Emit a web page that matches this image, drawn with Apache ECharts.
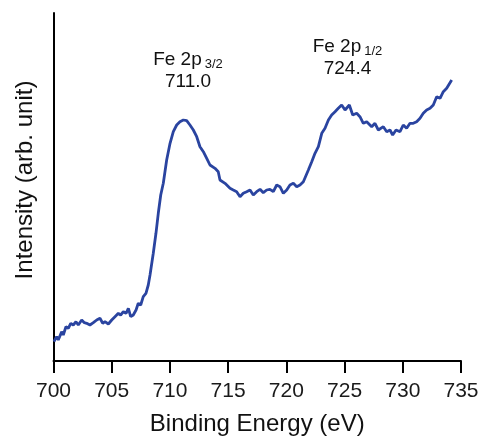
<!DOCTYPE html>
<html>
<head>
    <meta charset="UTF-8">
    <title>Fe 2p XPS</title>
    <script type="text/javascript" src="https://cdn.jsdelivr.net/npm/echarts@6/dist/echarts.min.js"></script>
    <style>
        html, body { margin: 0; padding: 0; background: #fff; }
        #chart { width: 483px; height: 441px; }
    </style>
</head>
<body>
<div id="chart"></div>
<script type="text/javascript">
    // binding energy (eV)
    var energy = [
        700.04, 700.27, 700.41, 700.70, 700.84, 701.07, 701.27, 701.48, 701.70, 701.93,
        702.13, 702.42, 702.65, 702.85, 703.13, 703.42, 703.71, 703.99, 704.23, 704.42,
        704.71, 705.00, 705.28, 705.57, 705.77, 706.00, 706.23, 706.43, 706.63, 706.85,
        707.09, 707.28, 707.49, 707.71, 707.94, 708.14, 708.29, 708.57, 708.80, 709.00,
        709.21, 709.43, 709.72, 710.01, 710.29, 710.58, 710.86, 711.15, 711.44, 711.72,
        712.01, 712.30, 712.58, 712.87, 713.16, 713.44, 713.87, 714.15, 714.30, 714.73,
        715.16, 715.44, 715.73, 716.02, 716.30, 716.59, 716.88, 717.16, 717.45, 717.74,
        718.02, 718.31, 718.59, 718.88, 719.17, 719.45, 719.74, 720.03, 720.31, 720.60,
        720.89, 721.17, 721.46, 721.60, 721.89, 722.18, 722.46, 722.75, 723.04, 723.32,
        723.61, 723.89, 724.18, 724.46, 724.75, 725.04, 725.41, 725.70, 726.04, 726.32,
        726.61, 726.90, 727.33, 727.61, 727.90, 728.04, 728.33, 728.62, 728.90, 729.13,
        729.42, 729.76, 730.04, 730.33, 730.62, 730.90, 731.19, 731.48, 731.76, 732.05,
        732.34, 732.62, 732.91, 733.20, 733.48, 733.77, 734.20
    ];
    // intensity (arb. unit)
    var intensity = [
        19.3, 24.3, 21.0, 29.3, 26.0, 34.3, 32.7, 37.7, 36.0, 39.3,
        36.0, 41.0, 38.3, 37.7, 36.0, 38.3, 41.0, 42.7, 37.7, 39.3,
        37.0, 41.0, 44.3, 47.7, 46.0, 49.3, 47.7, 52.7, 44.3, 46.0,
        51.0, 57.7, 56.0, 64.3, 67.7, 76.0, 86.0, 107.7, 127.7, 147.7,
        166.0, 177.7, 201.0, 217.7, 229.3, 236.0, 239.3, 241.0, 240.3, 236.0,
        231.0, 224.3, 214.3, 209.3, 202.7, 196.0, 192.7, 189.3, 181.0, 177.7,
        172.7, 171.0, 169.3, 164.3, 167.7, 169.3, 171.0, 166.0, 169.3, 171.7,
        168.3, 171.0, 171.7, 169.3, 176.0, 174.3, 167.7, 171.0, 176.0, 177.7,
        174.3, 176.0, 179.3, 181.0, 191.0, 199.3, 207.7, 214.3, 227.7, 232.7,
        241.0, 246.0, 249.3, 252.7, 256.0, 251.0, 256.0, 246.0, 247.7, 244.3,
        237.7, 239.3, 234.3, 237.7, 231.0, 231.0, 234.3, 229.3, 231.0, 226.0,
        231.0, 229.3, 236.0, 232.7, 237.7, 237.7, 239.3, 242.7, 247.7, 251.0,
        252.7, 256.0, 264.3, 262.7, 269.3, 272.7, 281.0
    ];
    var xTicks = [700, 705, 710, 715, 720, 725, 730, 735];
    // peak labels: [position eV, label height, sub, value]
    var peakLabels = [
        [711.55, 290, '3/2', '711.0'],
        [725.25, 303, '1/2', '724.4']
    ];

    var points = [];
    for (var i = 0; i < energy.length; i++) {
        points.push([energy[i], intensity[i]]);
    }

    var font = '"Liberation Sans", Arial, sans-serif';
    var labelData = peakLabels.map(function (p) {
        return {
            coord: [p[0], p[1]],
            label: {
                formatter: '{n|Fe 2p}{s|' + p[2] + '}\n{n|' + p[3] + '}'
            }
        };
    });

    var chart = echarts.init(document.getElementById('chart'), null, {renderer: 'canvas'});
    chart.setOption({
        animation: false,
        backgroundColor: '#fff',
        textStyle: {fontFamily: font},
        grid: {left: 53.5, right: 22, top: 13, bottom: 80, containLabel: false},
        xAxis: {
            type: 'value',
            min: 700,
            max: 735,
            interval: 5,
            name: 'Binding Energy (eV)',
            nameLocation: 'middle',
            nameGap: 51,
            nameTextStyle: {fontSize: 24, color: '#111', fontFamily: font},
            axisLine: {lineStyle: {color: '#000', width: 2}},
            axisTick: {show: true, length: 12, lineStyle: {color: '#000', width: 2}},
            axisLabel: {
                fontSize: 21, color: '#1a1a1a', margin: 20, fontFamily: font,
                formatter: function (v) { return xTicks.indexOf(v) >= 0 ? String(v) : ''; }
            },
            splitLine: {show: false}
        },
        yAxis: {
            type: 'value',
            min: 0,
            max: 348,
            name: 'Intensity (arb. unit)',
            nameLocation: 'middle',
            nameGap: 16,
            nameTextStyle: {fontSize: 24, color: '#111', fontFamily: font, padding: [0, 0, 0, 14]},
            axisLine: {show: true, lineStyle: {color: '#000', width: 2}},
            axisTick: {show: false},
            axisLabel: {show: false},
            splitLine: {show: false}
        },
        series: [{
            type: 'line',
            data: points,
            showSymbol: false,
            symbol: 'none',
            lineStyle: {color: '#2a44a0', width: 2.8},
            markPoint: {
                symbol: 'circle',
                symbolSize: 0,
                silent: true,
                label: {
                    show: true,
                    position: 'inside',
                    align: 'center',
                    color: '#111',
                    rich: {
                        n: {fontSize: 19, lineHeight: 22, color: '#111', fontFamily: font},
                        s: {fontSize: 13, lineHeight: 22, color: '#111', fontFamily: font,
                            verticalAlign: 'bottom', padding: [6, 0, 0, 3]}
                    }
                },
                data: labelData
            }
        }]
    });
</script>
</body>
</html>
